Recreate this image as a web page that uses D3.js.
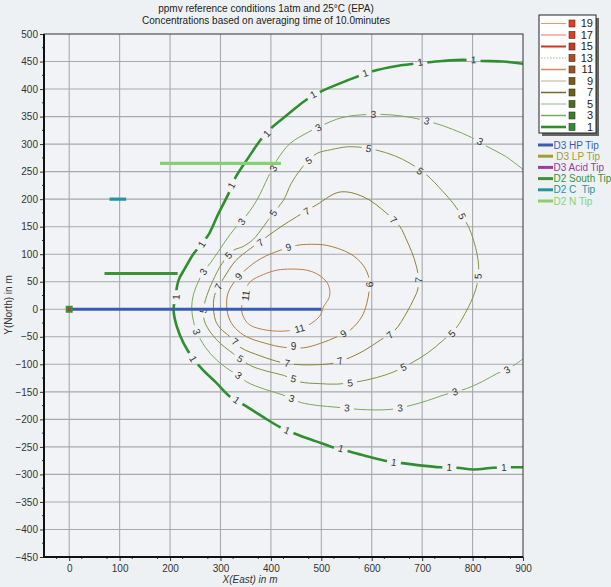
<!DOCTYPE html>
<html>
<head>
<meta charset="utf-8">
<script src="https://cdn.jsdelivr.net/npm/d3@7"></script>
<style>
  body { margin: 0; background: #eef1f4; }
  svg { display: block; font-family: "Liberation Sans", Arial, sans-serif; }
  .pre { white-space: pre; }
</style>
</head>
<body>
<svg id="chart" width="611" height="587"></svg>
<script>
// contour levels (ppmv) drawn in the plot
const levels = [1, 3, 5, 7, 9, 11]

// contour lines, [x (East, m), y (North, m)]
const contour1 = [[900,446],[860,450],[818,451],[782,453],[740,451],[706,448],[650,442],[600,432],[550,415],[498,395],[471,381],[435,355],[398,327],[379,307],[355,275],[329,238],[316,210],[295,172],[278,138],[262,118],[246,100],[230,75],[217,53],[211,25],[207,-2],[213,-30],[227,-62],[246,-90],[265,-110],[290,-132],[319,-159],[349,-175],[385,-196],[418,-214],[448,-226],[490,-240],[524,-251],[554,-258],[590,-267],[626,-275],[656,-279],[700,-284],[736,-287],[769,-288],[802,-291],[841,-288],[874,-287],[900,-287]]
const contour3 = [[900,254],[865,278],[828,296],[798,312],[760,327],[722,339],[680,348],[640,353],[600,354],[557,351],[530,345],[504,335],[475,322],[438,301],[412,271],[395,241],[372,198],[352,171],[326,144],[313,128],[296,105],[280,84],[266,68],[255,48],[246,25],[243,4],[246,-20],[253,-41],[270,-69],[292,-92],[319,-111],[336,-120],[352,-132],[390,-146],[425,-156],[458,-169],[495,-175],[531,-178],[577,-182],[636,-182],[676,-175],[710,-166],[742,-156],[788,-144],[820,-131],[848,-117],[875,-106],[900,-90]]
const contour5 = [[762,192],[740,215],[709,244],[676,265],[645,279],[610,289],[580,294],[551,295],[520,290],[491,283],[470,266],[458,253],[440,228],[425,198],[405,175],[385,150],[365,127],[345,114],[326,107],[303,83],[285,52],[273,25],[266,-2],[270,-26],[293,-56],[326,-81],[359,-102],[390,-112],[425,-120],[458,-132],[495,-135],[531,-136],[570,-132],[610,-124],[643,-114],[676,-99],[710,-80],[742,-56],[769,-32],[785,-8],[797,14],[806,35],[811,56],[812,78],[809,100],[802,125],[792,150],[779,169]]
const contour7 = [[537,213],[584,204],[630,174],[656,150],[668,128],[679,105],[688,80],[693,55],[691,35],[683,18],[670,-5],[646,-38],[617,-56],[585,-75],[551,-90],[524,-98],[480,-101],[445,-100],[418,-96],[380,-85],[339,-69],[319,-50],[300,-35],[290,-20],[286,10],[290,30],[306,56],[330,88],[359,110],[392,132],[420,150],[451,168],[491,190]]
const contour9 = [[511,116],[557,101],[583,80],[595,55],[595,35],[590,10],[580,-14],[557,-38],[531,-50],[498,-62],[465,-70],[425,-69],[390,-62],[352,-50],[330,-35],[316,-14],[313,22],[323,44],[349,71],[380,92],[418,107],[451,116],[480,118]]
const contour11 = [[504,4],[515,20],[517,32],[513,46],[504,56],[490,65],[471,71],[440,73],[412,71],[385,63],[359,50],[348,30],[342,-2],[348,-18],[359,-29],[392,-38],[435,-39],[474,-29],[498,-11]]
const contours = [contour1, contour3, contour5, contour7, contour9, contour11]
const closedContour = [false, false, true, true, true, true]

// where the level labels sit on each contour
const labels1 = [[802,453],[696,449],[587,429],[484,390],[392,319],[322,225],[263,118],[212,22],[246,-90],[332,-165],[432,-220],[539,-253],[644,-278],[754,-287],[862,-287]]
const labels3 = [[603,354],[709,342],[815,305],[494,330],[405,256],[342,159],[266,68],[253,-41],[336,-120],[441,-162],[551,-179],[656,-179],[765,-150],[868,-110]]
const labels5 = [[594,292],[696,251],[779,169],[475,270],[405,175],[316,98],[266,-2],[339,-90],[445,-126],[557,-134],[663,-105],[759,-44],[811,60]]
const labels7 = [[471,178],[643,162],[379,121],[296,41],[329,-59],[432,-98],[537,-94],[636,-47],[693,53]]
const labels9 = [[596,45],[544,-44],[445,-67],[336,60],[435,113]]
const labels11 = [[350,25],[457,-35]]
const contourLabels = [labels1, labels3, labels5, labels7, labels9, labels11]

// legend of levels
const legendLevels = [19, 17, 15, 13, 11, 9, 7, 5, 3, 1]

// sources
const sourceNames = ['D3 HP Tip', ' D3 LP Tip', 'D3 Acid Tip', 'D2 South Tip', 'D2 C  Tip', 'D2 N Tip']
const sourceLines = [[[0, 0], [500, 0]], null, null, [[70, 65], [215, 65]], [[80, 200], [113, 200]], [[180, 265], [420, 265]]]
const sourcePoint = [0, 0]

// axis ticks
const xTicks = d3.range(0, 901, 100)
const yTicks = d3.range(-450, 501, 50)

// styles
const contourColors = ['#2f8f2f', '#78a858', '#7d9540', '#8a8232', '#ad7c3c', '#c47a4e']
const contourWidths = [2.6, 1, 1, 1, 1, 1]
const legendLineColors = ['#f09478', '#ee7458', '#d0341e', '#c0a898', '#d48a5a', '#bcae8e', '#6c6a30', '#98b488', '#78aa66', '#2f8f2f']
const legendLineWidths = [1, 1, 2, 1, 1.5, 1, 1.5, 1, 1.5, 2.6]
const legendSwatch = ['#ea3a1c', '#e23c1a', '#cc3a1a', '#b84a1a', '#9e521a', '#7c5a14', '#6a6214', '#4e6e1c', '#3c7e22', '#2e8e2e']
const sourceColors = ['#3a5cb0', '#a49c30', '#9a3aa2', '#3a923a', '#22949c', '#86d074']

const svg = d3.select('#chart')
const W = 611, H = 587
const pL = 44, pR = 523, pT = 34, pB = 557

const x = d3.scaleLinear().domain([-50, 900]).range([pL, pR])
const y = d3.scaleLinear().domain([-450, 500]).range([pB, pT])

svg.append('rect').attr('width', W).attr('height', H).attr('fill', '#eef1f4')
svg.append('rect')
  .attr('x', pL).attr('y', pT)
  .attr('width', pR - pL).attr('height', pB - pT)
  .attr('fill', '#f1f3f6')

// grid
svg.append('g').selectAll('line')
  .data(xTicks.filter(d => d < 900))
  .join('line')
  .attr('x1', d => x(d)).attr('x2', d => x(d))
  .attr('y1', pT).attr('y2', pB)
  .attr('stroke', '#a9a9ab').attr('stroke-width', 1.1)

svg.append('g').selectAll('line')
  .data(yTicks.filter(d => d > -450 && d < 500))
  .join('line')
  .attr('x1', pL).attr('x2', pR)
  .attr('y1', d => y(d)).attr('y2', d => y(d))
  .attr('stroke', '#a9a9ab').attr('stroke-width', 1.1)

// clip + label gaps
const defs = svg.append('defs')
defs.append('clipPath').attr('id', 'plot')
  .append('rect').attr('x', pL).attr('y', pT).attr('width', pR - pL).attr('height', pB - pT)
const mask = defs.append('mask').attr('id', 'gaps').attr('maskUnits', 'userSpaceOnUse')
  .attr('x', 0).attr('y', 0).attr('width', W).attr('height', H)
mask.append('rect').attr('width', W).attr('height', H).attr('fill', 'white')

function labelAngle(pts, p) {
  const P = pts.map(d => [x(d[0]), y(d[1])])
  const q = [x(p[0]), y(p[1])]
  let best = 0, bd = Infinity
  for (let i = 0; i < P.length - 1; i++) {
    const a = P[i], b = P[i + 1]
    const dx = b[0] - a[0], dy = b[1] - a[1]
    let t = ((q[0] - a[0]) * dx + (q[1] - a[1]) * dy) / (dx * dx + dy * dy)
    t = Math.max(0, Math.min(1, t))
    const ex = a[0] + t * dx - q[0], ey = a[1] + t * dy - q[1]
    const dd = ex * ex + ey * ey
    if (dd < bd) { bd = dd; best = i }
  }
  const a = P[Math.max(0, best - 1)], b = P[Math.min(P.length - 1, best + 2)]
  let ang = Math.atan2(b[1] - a[1], b[0] - a[0]) * 180 / Math.PI
  if (ang > 90) ang -= 180
  if (ang < -90) ang += 180
  return ang
}

const labelData = []
contourLabels.forEach((list, i) => {
  list.forEach(p => labelData.push({ level: levels[i], p, ang: labelAngle(contours[i], p) }))
})

mask.selectAll('rect.gap')
  .data(labelData)
  .join('rect')
  .attr('class', 'gap')
  .attr('x', d => -(String(d.level).length * 3 + 4))
  .attr('y', -5)
  .attr('width', d => String(d.level).length * 6 + 8)
  .attr('height', 10)
  .attr('fill', 'black')
  .attr('transform', d => `translate(${x(d.p[0])},${y(d.p[1])}) rotate(${d.ang})`)

const lineOpen = d3.line().x(d => x(d[0])).y(d => y(d[1])).curve(d3.curveCatmullRom.alpha(0.5))
const lineClosed = d3.line().x(d => x(d[0])).y(d => y(d[1])).curve(d3.curveCatmullRomClosed.alpha(0.5))

const cg = svg.append('g').attr('clip-path', 'url(#plot)')
cg.append('g').attr('mask', 'url(#gaps)')
  .selectAll('path')
  .data(contours)
  .join('path')
  .attr('d', (d, i) => closedContour[i] ? lineClosed(d) : lineOpen(d))
  .attr('fill', 'none')
  .attr('stroke', (d, i) => contourColors[i])
  .attr('stroke-width', (d, i) => contourWidths[i])

cg.selectAll('text.lvl')
  .data(labelData)
  .join('text')
  .attr('class', 'lvl')
  .attr('transform', d => `translate(${x(d.p[0])},${y(d.p[1])}) rotate(${d.ang})`)
  .attr('text-anchor', 'middle')
  .attr('dy', '0.35em')
  .attr('font-size', 10)
  .attr('fill', '#333')
  .text(d => d.level)

// sources
const srcLines = sourceLines.map((s, i) => ({ s, i })).filter(d => d.s)
svg.append('g').selectAll('line')
  .data(srcLines)
  .join('line')
  .attr('x1', d => x(d.s[0][0])).attr('y1', d => y(d.s[0][1]))
  .attr('x2', d => x(d.s[1][0])).attr('y2', d => y(d.s[1][1]))
  .attr('stroke', d => sourceColors[d.i])
  .attr('stroke-width', 3.2)

svg.append('rect')
  .attr('x', x(sourcePoint[0]) - 3.5).attr('y', y(sourcePoint[1]) - 3.5)
  .attr('width', 7).attr('height', 7)
  .attr('fill', '#3a923a')
svg.append('rect')
  .attr('x', x(sourcePoint[0]) - 1.5).attr('y', y(sourcePoint[1]) - 1.5)
  .attr('width', 3).attr('height', 3)
  .attr('fill', '#c0304a')

// axes
const yAxis = svg.append('g')
  .attr('transform', `translate(${pL},0)`)
  .call(d3.axisLeft(y).tickValues(yTicks).tickSize(4).tickPadding(2))
yAxis.append('g').selectAll('line')
  .data(d3.range(-425, 500, 50))
  .join('line')
  .attr('x1', -2).attr('x2', 0)
  .attr('y1', d => y(d)).attr('y2', d => y(d))
  .attr('stroke', '#333')

const xAxis = svg.append('g')
  .attr('transform', `translate(0,${pB})`)
  .call(d3.axisBottom(x).tickValues(xTicks).tickSize(4).tickPadding(4))
xAxis.append('g').selectAll('line')
  .data(d3.range(-25, 900, 50))
  .join('line')
  .attr('x1', d => x(d)).attr('x2', d => x(d))
  .attr('y1', 0).attr('y2', 2)
  .attr('stroke', '#333')

svg.selectAll('.domain').remove()
svg.selectAll('.tick line').attr('stroke', '#333')
svg.selectAll('.tick text').attr('font-size', 10).attr('fill', '#333')
  .attr('font-family', '"Liberation Sans", Arial, sans-serif')

svg.append('rect')
  .attr('x', pL).attr('y', pT)
  .attr('width', pR - pL).attr('height', pB - pT)
  .attr('fill', 'none').attr('stroke', '#333').attr('stroke-width', 1)
svg.append('path')
  .attr('d', `M${pL},${pT}V${pB}H${pR}`)
  .attr('fill', 'none').attr('stroke', '#111').attr('stroke-width', 2)

// titles
svg.append('text').attr('x', 266).attr('y', 12).attr('text-anchor', 'middle')
  .attr('font-size', 10).attr('fill', '#222')
  .text('ppmv reference conditions 1atm and 25°C (EPA)')
svg.append('text').attr('x', 266).attr('y', 24).attr('text-anchor', 'middle')
  .attr('font-size', 10).attr('fill', '#222')
  .text('Concentrations based on averaging time of 10.0minutes')

svg.append('text')
  .attr('transform', 'translate(12,305) rotate(-90)')
  .attr('text-anchor', 'middle').attr('font-size', 10).attr('fill', '#333')
  .text('Y(North) in m')
svg.append('text')
  .attr('x', 250).attr('y', 583)
  .attr('text-anchor', 'middle').attr('font-size', 10).attr('font-style', 'italic').attr('fill', '#333')
  .text('X(East) in m')

// level legend
const lg = svg.append('g')
lg.append('rect').attr('x', 542).attr('y', 18).attr('width', 57).attr('height', 118).attr('fill', '#666')
lg.append('rect').attr('x', 539).attr('y', 15).attr('width', 57).attr('height', 118)
  .attr('fill', 'white').attr('stroke', '#222').attr('stroke-width', 1)
const ly = d3.scalePoint().domain(legendLevels).range([23.5, 127])
const items = lg.selectAll('g.item').data(legendLevels).join('g').attr('class', 'item')
items.append('line')
  .attr('x1', 541).attr('x2', 566)
  .attr('y1', d => ly(d)).attr('y2', d => ly(d))
  .attr('stroke', (d, i) => legendLineColors[i])
  .attr('stroke-width', (d, i) => legendLineWidths[i])
  .attr('stroke-dasharray', d => d === 13 ? '1.5,1.5' : null)
items.append('rect')
  .attr('x', 569).attr('y', d => ly(d) - 3.5)
  .attr('width', 6).attr('height', 7)
  .attr('fill', (d, i) => legendSwatch[i])
  .attr('stroke', '#333').attr('stroke-width', 0.6)
items.append('text')
  .attr('x', 593).attr('y', d => ly(d)).attr('dy', '0.35em')
  .attr('text-anchor', 'end').attr('font-size', 11).attr('fill', '#222')
  .text(d => d)

// source legend
const sy = d3.scalePoint().domain(sourceNames).range([145, 201])
const src = svg.append('g').selectAll('g').data(sourceNames).join('g')
src.append('line')
  .attr('x1', 538).attr('x2', 553)
  .attr('y1', d => sy(d)).attr('y2', d => sy(d))
  .attr('stroke', (d, i) => sourceColors[i]).attr('stroke-width', 3)
src.append('text')
  .attr('class', 'pre')
  .attr('x', 553.5).attr('y', d => sy(d)).attr('dy', '0.35em')
  .attr('font-size', 10)
  .attr('fill', (d, i) => sourceColors[i])
  .text(d => d)
</script>
</body>
</html>
